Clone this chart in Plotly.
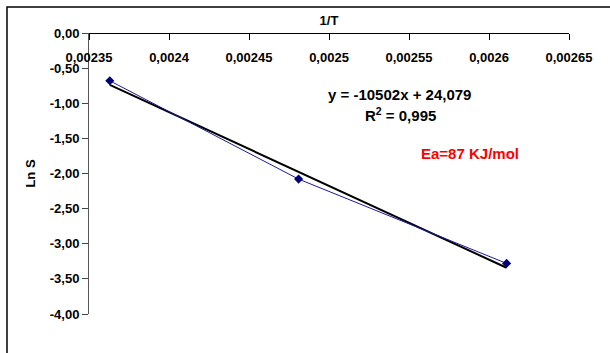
import plotly.graph_objects as go

# data
inv_T = [0.002363, 0.002481, 0.002611]
ln_S = [-0.68, -2.08, -3.28]
slope = -10502
intercept = 24.079
x_tickvals = [0.00235, 0.0024, 0.00245, 0.0025, 0.00255, 0.0026, 0.00265]
x_ticktext = ["0,00235", "0,0024", "0,00245", "0,0025", "0,00255", "0,0026", "0,00265"]
y_tickvals = [0, -0.5, -1, -1.5, -2, -2.5, -3, -3.5, -4]
y_ticktext = ["0,00", "-0,50", "-1,00", "-1,50", "-2,00", "-2,50", "-3,00", "-3,50", "-4,00"]

trend_x = [inv_T[0], inv_T[-1]]
trend_y = [slope * v + intercept for v in trend_x]

FONT = "Liberation Sans, Arial, sans-serif"

fig = go.Figure()
fig.add_trace(go.Scatter(x=trend_x, y=trend_y, mode="lines",
                         line=dict(color="black", width=2), showlegend=False))
fig.add_trace(go.Scatter(x=inv_T, y=ln_S, mode="lines+markers",
                         line=dict(color="#1a1aa0", width=1),
                         marker=dict(symbol="diamond", size=7, color="#00007a"),
                         showlegend=False))
# carrier for the top title axis
fig.add_trace(go.Scatter(x=[inv_T[0]], y=[ln_S[0]], xaxis="x2", mode="markers",
                         marker=dict(opacity=0), showlegend=False, hoverinfo="skip"))

L, R, T, B = 89, 569, 33, 314
W, H = 610, 353

fig.update_layout(
    width=W, height=H,
    margin=dict(l=L, r=W - R, t=T, b=H - B, autoexpand=False),
    paper_bgcolor="white", plot_bgcolor="white",
    font=dict(family=FONT, size=12, color="black"),
    xaxis=dict(
        range=[0.00235, 0.00265], anchor="free", position=1, side="bottom",
        tickvals=x_tickvals, ticktext=["<b>%s</b>" % t for t in x_ticktext],
        ticks="outside", ticklen=6, tickcolor="black", ticklabelstandoff=6,
        tickfont=dict(family=FONT, size=13, color="black"),
        showline=True, linecolor="black", linewidth=1,
        showgrid=False, zeroline=False,
    ),
    xaxis2=dict(
        range=[0.00235, 0.00265], overlaying="x", side="top", anchor="y",
        showticklabels=False, ticks="", showline=False, showgrid=False, zeroline=False,
        title=dict(text="<b>1/T</b>", standoff=3,
                   font=dict(family=FONT, size=13, color="black")),
    ),
    yaxis=dict(
        range=[-4, 0],
        tickvals=y_tickvals, ticktext=["<b>%s</b>" % t for t in y_ticktext],
        ticks="outside", ticklen=6, tickcolor="#444",
        tickfont=dict(family=FONT, size=13, color="black"),
        showline=True, linecolor="#555", linewidth=1,
        showgrid=False, zeroline=False,
        title=dict(text="<b>Ln S</b>", standoff=11,
                   font=dict(family=FONT, size=13, color="black")),
    ),
    annotations=[
        dict(x=(399 - L) / (R - L), y=(B - 94) / (B - T), xref="paper", yref="paper",
             xanchor="center", yanchor="middle",
             text="<b>y = -10502x + 24,079</b>", showarrow=False,
             font=dict(family=FONT, size=15, color="black")),
        dict(x=(400 - L) / (R - L), y=(B - 115) / (B - T), xref="paper", yref="paper",
             xanchor="center", yanchor="middle",
             text="<b>R<sup>2</sup> = 0,995</b>", showarrow=False,
             font=dict(family=FONT, size=15, color="black")),
        dict(x=(470 - L) / (R - L), y=(B - 153) / (B - T), xref="paper", yref="paper",
             xanchor="center", yanchor="middle",
             text="<b>Ea=87 KJ/mol</b>", showarrow=False,
             font=dict(family=FONT, size=15, color="#ff0000")),
    ],
    shapes=[
        dict(type="rect", xref="paper", yref="paper",
             x0=(7 - L) / (R - L), x1=(620 - L) / (R - L),
             y0=(B - 365) / (B - T), y1=(B - 7) / (B - T),
             line=dict(color="black", width=1.5), layer="below"),
    ],
)

fig.write_html("out.html")
